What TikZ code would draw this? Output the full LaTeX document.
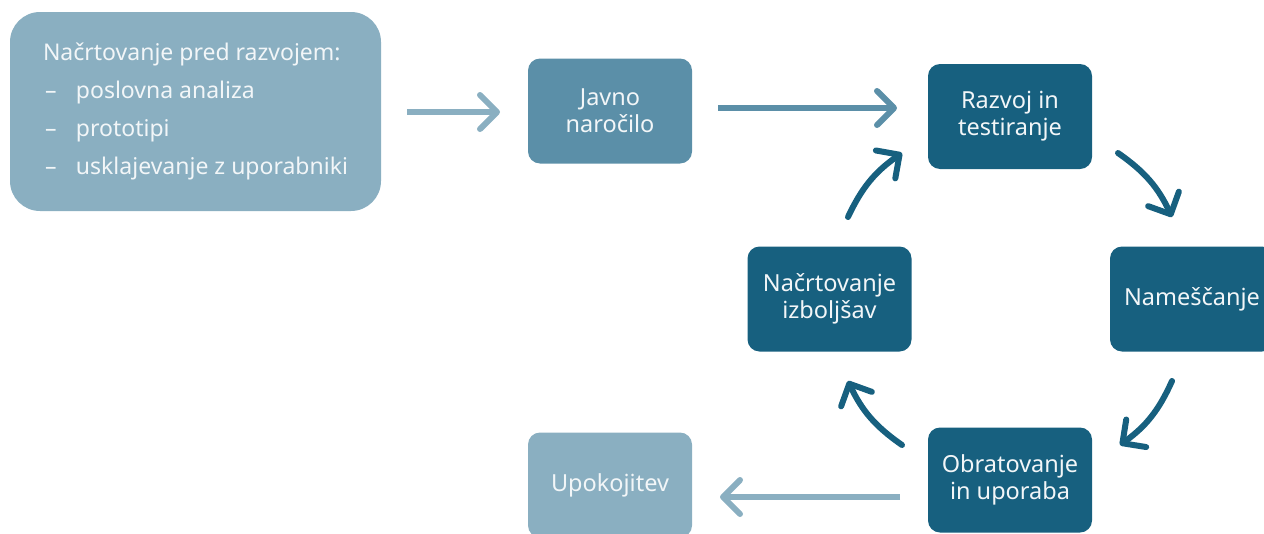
\documentclass[tikz,border=0pt]{standalone}
\usepackage{fontspec}
\setmainfont{Noto Sans}
\usetikzlibrary{arrows.meta}
\definecolor{cLight}{HTML}{8AAFC1}
\definecolor{cMid}{HTML}{5B8FA8}
\definecolor{cDark}{HTML}{17607F}
\definecolor{cText}{HTML}{F2F6F8}
\begin{document}
\begin{tikzpicture}[x=1pt,y=-1pt,
  stage/.style={rounded corners=12pt, minimum width=164pt, minimum height=105pt,
    text=cText, align=center, font=\fontsize{23.5}{27}\selectfont, inner sep=0pt},
  flow/.style={line width=6pt, -{Straight Barb[length=17pt,width=34pt,round]}},
  cyc/.style={flow, draw=cDark, line cap=round}
]
\useasboundingbox (0,0) rectangle (1264,533);

\node[stage, fill=cLight, rounded corners=30pt, minimum width=371pt, minimum height=199pt,
  align=left, font=\fontsize{23}{38}\selectfont] (plan) at (195.5,111.5)
  {Načrtovanje pred razvojem:\\
   \makebox[33pt][l]{\hspace{2pt}–}poslovna analiza\\
   \makebox[33pt][l]{\hspace{2pt}–}prototipi\\
   \makebox[33pt][l]{\hspace{2pt}–}usklajevanje z uporabniki};

\node[stage, fill=cMid] (javno) at (610,111) {Javno\\naročilo};
\node[stage, fill=cDark] (raz) at (1010,116.5) {Razvoj in\\testiranje};
\node[stage, fill=cDark] (nam) at (1192,299) {Nameščanje};
\node[stage, fill=cDark] (obr) at (1010,480) {Obratovanje\\in uporaba};
\node[stage, fill=cDark] (nac) at (829.5,299) {Načrtovanje\\izboljšav};
\node[stage, fill=cLight] (upo) at (610,485) {Upokojitev};

\coordinate (a1s) at (407,112);
\coordinate (a1e) at (500,112);
\coordinate (a2s) at (718,108);
\coordinate (a2e) at (897,108);
\coordinate (a3s) at (900,497);
\coordinate (a3e) at (720,497);
\coordinate (c1s) at (1118,153);
\coordinate (c1e) at (1172,217);
\coordinate (c2s) at (1172,381);
\coordinate (c2e) at (1120,445);
\coordinate (c3s) at (902,445);
\coordinate (c3e) at (848,381);
\coordinate (c4s) at (848,217);
\coordinate (c4e) at (902,153);

\draw[flow, draw=cLight] (a1s) -- (a1e);
\draw[flow, draw=cMid] (a2s) -- (a2e);
\draw[flow, draw=cLight] (a3s) -- (a3e);
\draw[cyc] (c1s) to[bend left=15] (c1e);
\draw[cyc] (c2s) to[bend left=15] (c2e);
\draw[cyc] (c3s) to[bend left=15] (c3e);
\draw[cyc] (c4s) to[bend left=15] (c4e);
\end{tikzpicture}
\end{document}
